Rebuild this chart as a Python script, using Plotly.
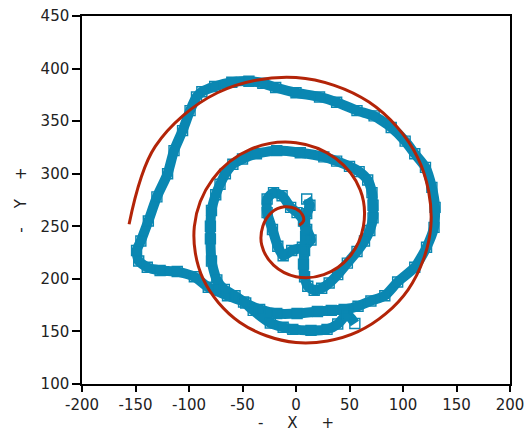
import plotly.graph_objects as go

# Red reference spiral
spiral_x = [3, 7, 6, 0, -11, -23, -31, -32, -21, 0, 26, 50, 63, 60, 37.2, 0, -42.3,
            -77.8, -95, -86.8, -52.7, 0, 57.9, 104.7, 126, 113.6, 68.2, 0, -73.4,
            -131.5, -156]
spiral_y = [251, 255, 261, 266.5, 268.5, 263, 250, 232, 213, 202, 204, 221, 250,
            284.6, 314.4, 329.5, 323.3, 294.9, 250, 199.9, 158.8, 139.5, 149.8,
            189.6, 250, 315.6, 368.1, 391.5, 377.0, 326.0, 252]

# Blue traced path
trace_x = [10, 13, 10, 8, 10, 14, 6, -4, -12, -17, -22, -27, -27, -21, -13, -5, 1, 7, 9,
           8, 7, 8, 11, 17, 24, 31, 39, 48, 57, 64, 69,
           72, 72, 71, 67, 59, 50, 38, 26, 4, -18, -37, -50, -59, -66, -71, -75, -79,
           -80, -80, -79, -74, -67, -57, -47, -34,
           -18, 1, 20, 33, 45, 58, 70, 83,
           95, 111, 122, 129, 130, 127, 121, 111, 102, 89, 73, 57, 38, 22, 0, -19,
           -31, -44, -60, -76, -88, -93, -99, -106, -114, -120, -130, -138, -145,
           -149, -147, -139, -127, -111, -95, -82, -64, -49, -40,
           -24, -12, -3, 14, 29, 39, 48, 55]
trace_y = [276, 270, 262, 255, 247, 237, 230, 227, 222, 231, 247, 263, 276, 282, 279,
           268, 263, 255, 240,
           227, 214, 202, 193, 189, 191, 196, 204, 215, 226, 236, 246,
           258, 270, 282, 294, 302, 307, 312, 316, 320, 322, 319, 314, 309, 300, 290,
           280, 265, 250, 238, 217, 199, 190, 184, 177, 171,
           167, 167, 169, 170, 171, 174, 179, 184,
           197, 211, 230, 249, 268, 287, 306, 319, 331, 344, 355, 360, 368, 373, 377,
           382, 386, 388, 387, 383, 378, 373, 360, 341, 322, 300, 278, 255, 236,
           227, 217, 211, 208, 207, 202, 192, 184, 178, 170,
           158, 154, 152, 151, 152, 157, 166, 157.5]

x_ticks = [-200, -150, -100, -50, 0, 50, 100, 150, 200]
x_tick_text = ["-200", "-150", "-100", "-50", "0", "50", "100", "150", "200"]
y_ticks = [100, 150, 200, 250, 300, 350, 400, 450]
y_tick_text = ["100", "150", "200", "250", "300", "350", "400", "450"]

BLUE = "#0a87b2"
RED = "#b32408"
FONT = "DejaVu Sans"
NB = "\u00a0"

fig = go.Figure()
fig.add_trace(go.Scatter(
    x=trace_x, y=trace_y, mode="lines+markers",
    line=dict(color=BLUE, width=10, shape="spline", smoothing=0.6),
    marker=dict(symbol="square-open", size=10, color=BLUE, line=dict(width=1.4, color=BLUE)),
    showlegend=False, hoverinfo="skip"))
fig.add_trace(go.Scatter(
    x=spiral_x, y=spiral_y, mode="lines",
    line=dict(color=RED, width=3, shape="spline", smoothing=1.0),
    showlegend=False, hoverinfo="skip"))

axis_common = dict(
    showgrid=False, zeroline=False, showline=True, linecolor="black", linewidth=1.5,
    mirror=True, ticks="outside", tickwidth=1.5, tickcolor="black",
    tickfont=dict(family=FONT, size=15, color="#222222"),
)
fig.update_xaxes(range=[-200, 200], tickvals=x_ticks, ticktext=x_tick_text, ticklen=6,
                 title=dict(text="-" + NB * 5 + "X" + NB * 5 + "+" + NB * 3,
                            font=dict(family=FONT, size=15, color="#222222"), standoff=9),
                 **axis_common)
fig.update_yaxes(range=[100, 450], tickvals=y_ticks, ticktext=y_tick_text, ticklen=8,
                 title=dict(text="-" + NB * 4 + "Y" + NB * 4 + "+",
                            font=dict(family=FONT, size=15, color="#222222"), standoff=10),
                 **axis_common)
fig.update_layout(
    width=530, height=432,
    margin=dict(l=82, r=20, t=16, b=48, autoexpand=False),
    plot_bgcolor="white", paper_bgcolor="white",
)
fig.write_html("out.html", config={"displayModeBar": False},
               post_script="document.body.style.margin='0px';document.body.style.overflow='hidden';")
